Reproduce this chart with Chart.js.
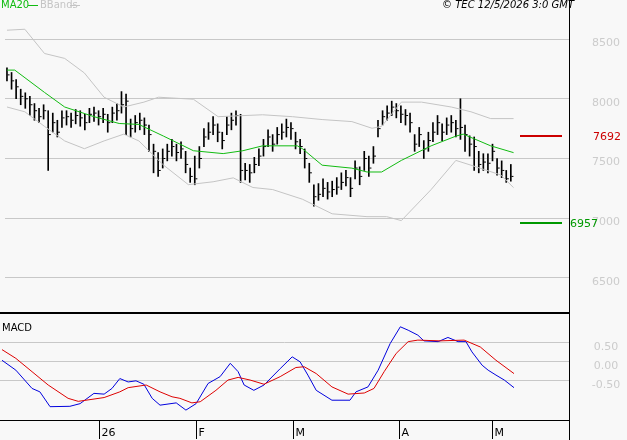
<!DOCTYPE html>
<html>
<head>
<meta charset="utf-8">
<script src="https://cdn.jsdelivr.net/npm/chart.js@4/dist/chart.umd.min.js"></script>
<style>
  body { margin: 0; background: #f8f8f8; }
  #wrap { position: relative; width: 627px; height: 440px; }
  canvas { position: absolute; left: 0; }
</style>
</head>
<body>
<div id="wrap">
  <canvas id="price" style="top:0" width="627" height="314"></canvas>
  <canvas id="macd" style="top:314px" width="627" height="126"></canvas>
</div>
<script>
// daily bars, x = bar index
const highs = [8260,8220,8160,8080,8050,8020,7960,7920,7950,7900,
  7880,7820,7900,7900,7880,7910,7900,7870,7920,7930,
  7900,7920,7870,7930,7960,8060,8040,7830,7860,7880,
  7840,7780,7620,7550,7580,7620,7660,7620,7640,7560,
  7420,7520,7600,7750,7800,7850,7790,7720,7850,7880,
  7900,7870,7460,7450,7510,7580,7660,7740,7700,7760,
  7790,7830,7800,7720,7660,7580,7460,7280,7290,7330,
  7300,7310,7340,7380,7400,7340,7480,7430,7560,7520,
  7600,7820,7900,7940,7980,7960,7940,7910,7880,7700,
  7760,7650,7720,7800,7860,7790,7840,7860,7820,8000,
  7780,7690,7680,7560,7540,7540,7620,7500,7480,7400,
  7450];
const lows = [8150,8080,8000,7950,7920,7860,7820,7800,7830,7400,
  7720,7680,7760,7780,7760,7790,7770,7740,7800,7810,
  7780,7800,7720,7800,7820,7880,7700,7680,7720,7740,
  7700,7560,7380,7350,7420,7480,7520,7480,7500,7380,
  7300,7280,7420,7600,7660,7700,7640,7580,7700,7740,
  7780,7300,7320,7300,7380,7440,7520,7600,7560,7620,
  7660,7680,7660,7580,7540,7420,7300,7100,7150,7180,
  7160,7180,7200,7240,7270,7180,7330,7280,7400,7350,
  7460,7680,7780,7820,7860,7840,7800,7780,7720,7560,
  7600,7500,7560,7640,7700,7650,7700,7720,7680,7660,
  7560,7520,7400,7380,7400,7380,7480,7360,7340,7300,
  7310];
const closes = [8200,8150,8100,8020,8000,7950,7900,7850,7900,7700,
  7800,7720,7840,7850,7820,7860,7840,7800,7870,7880,
  7850,7870,7800,7880,7900,7950,7980,7750,7800,7820,
  7780,7700,7560,7400,7500,7560,7600,7550,7580,7450,
  7350,7330,7500,7680,7720,7780,7720,7650,7780,7820,
  7860,7400,7400,7380,7450,7520,7600,7680,7620,7700,
  7720,7760,7750,7640,7600,7500,7380,7180,7200,7250,
  7220,7240,7260,7300,7340,7250,7420,7350,7500,7420,
  7520,7750,7850,7880,7930,7900,7870,7860,7800,7620,
  7700,7580,7650,7720,7800,7720,7780,7800,7750,7760,
  7700,7620,7600,7450,7470,7460,7560,7420,7400,7330,
  7350];

// MA20 and Bollinger bands read at [barIndex, value]
const ma20 = [[0,8240],[1.7,8240],[8.2,8053],[12.6,7931],[19,7850],[24.5,7793],[28.8,7785],[34.2,7687],
  [40.7,7565],[47.2,7541],[51.5,7565],[55.8,7606],[63.4,7606],[64.5,7582],[68.8,7444],[75.3,7419],
  [78.6,7387],[81.8,7387],[86.1,7484],[92.6,7606],[98,7687],[99.6,7704],[105.6,7606],[110.6,7549]];
const bbUpper = [[0,8574],[3.9,8582],[8.2,8379],[12.6,8338],[16.9,8216],[21.2,8013],[25.5,7931],[29.9,7972],
  [33.1,8013],[40.7,7996],[46.1,7850],[55.8,7866],[62.3,7850],[68.8,7826],[75.3,7809],[79.7,7753],
  [81.8,7769],[86.1,7972],[90.5,7972],[97,7931],[101.3,7891],[105.6,7834],[110.6,7834]];
const bbLower = [[0,7931],[3.9,7891],[8.2,7769],[12.6,7647],[16.9,7582],[21.2,7647],[25.5,7704],[28.8,7647],
  [34.2,7444],[39.6,7281],[45,7305],[49.4,7338],[53.7,7257],[58,7240],[64.5,7159],[71,7037],
  [78.6,7013],[82.9,7013],[86.1,6980],[92.6,7240],[98,7484],[101.3,7444],[107.8,7362],[110.6,7256]];

const macdLine = [[0,0.04],[3,-0.22],[6.5,-0.70],[8.2,-0.79],[10.4,-1.18],[14.7,-1.17],[16.9,-1.10],[19.9,-0.83],
  [22.1,-0.85],[23.8,-0.70],[25.5,-0.44],[27.3,-0.53],[29,-0.50],[30.7,-0.59],[32.5,-0.96],[34.2,-1.14],
  [37.7,-1.08],[39.8,-1.27],[42,-1.10],[44.6,-0.57],[47.2,-0.39],[49.4,-0.04],[51.1,-0.26],[52.4,-0.61],
  [54.5,-0.75],[56.7,-0.61],[60.2,-0.18],[62.8,0.13],[64.5,0],[66.2,-0.35],[68,-0.75],[71.4,-1.01],
  [75.3,-1.01],[76.6,-0.79],[79.2,-0.66],[81.4,-0.22],[84,0.48],[86.2,0.92],[87.9,0.83],[90,0.70],
  [91.3,0.55],[94.4,0.53],[96.5,0.64],[98.7,0.53],[100.4,0.53],[101.7,0.26],[103.9,-0.09],[105.2,-0.22],
  [106.9,-0.35],[108.7,-0.48],[110.8,-0.68]];
const signalLine = [[0,0.32],[3,0.09],[6.5,-0.26],[10,-0.61],[14.3,-0.96],[16.5,-1.04],[22.1,-0.94],[25.5,-0.79],
  [27.3,-0.68],[31.2,-0.61],[34.2,-0.79],[36.8,-0.92],[38.5,-0.96],[41.1,-1.08],[42.9,-1.05],[46.3,-0.75],
  [48.9,-0.48],[51.1,-0.41],[53.7,-0.48],[56.7,-0.59],[60.2,-0.39],[63.6,-0.15],[65.4,-0.13],[68,-0.31],
  [71.4,-0.66],[74.9,-0.85],[78.4,-0.82],[80.5,-0.70],[82.7,-0.26],[85.3,0.22],[87.9,0.53],[90,0.57],
  [94.8,0.55],[100,0.57],[103.5,0.39],[106.9,0.04],[110.8,-0.31]];

const priceTicks = [6500, 7000, 7500, 8000, 8500];
const macdTicks = [-0.5, 0, 0.5];
const monthTicks = [[21, '26'], [42, 'F'], [63, 'M'], [86, 'A'], [106, 'M']];
const resistance = 7692, support = 6957;

const X_MIN = -0.43, X_MAX = 122.7;
const pts = arr => arr.map(p => ({x: p[0], y: p[1]}));
const FONT = '11px "DejaVu Sans", sans-serif';

function rightAxis(min, max, ticks) {
  return {
    position: 'right', min: min, max: max,
    afterBuildTicks: s => { s.ticks = ticks.map(v => ({value: v})); },
    afterFit: s => { s.width = 58; },
    border: {display: false},
    grid: {color: '#c8c8c8', drawTicks: false},
    ticks: {display: false}
  };
}

// labels for the right axis, drawn from the scale
function axisLabels(chart, ticks, fmt) {
  const ctx = chart.ctx, y = chart.scales.y;
  ctx.save();
  ctx.font = FONT; ctx.fillStyle = '#cccccc';
  ctx.textAlign = 'center'; ctx.textBaseline = 'middle';
  ticks.forEach(v => ctx.fillText(fmt(v), 606, y.getPixelForValue(v) + 4));
  ctx.restore();
}

const frame = {
  id: 'frame',
  afterDraw(chart, args, opts) {
    const ctx = chart.ctx, a = chart.chartArea;
    ctx.save();
    ctx.strokeStyle = '#000';
    ctx.lineWidth = 1;
    ctx.beginPath();
    ctx.moveTo(a.right + 0.5, 0); ctx.lineTo(a.right + 0.5, chart.height);
    ctx.stroke();
    ctx.restore();
    if (opts.draw) opts.draw(chart);
  }
};

new Chart(document.getElementById('price'), {
  data: {
    datasets: [
      {type: 'line', data: pts(bbUpper), borderColor: '#c4c4c4', borderWidth: 1, pointRadius: 0},
      {type: 'line', data: pts(bbLower), borderColor: '#c4c4c4', borderWidth: 1, pointRadius: 0},
      {type: 'line', data: pts(ma20), borderColor: '#11bb11', borderWidth: 1, pointRadius: 0},
      {type: 'bar', data: highs.map((h, i) => ({x: i, y: [lows[i], h]})),
        backgroundColor: '#000', barThickness: 1},
      {type: 'scatter', data: closes.map((c, i) => ({x: i + 0.35, y: c})),
        pointStyle: 'line', radius: 1, borderColor: '#000', borderWidth: 1}
    ]
  },
  options: {
    responsive: false, animation: false,
    layout: {padding: {top: -4, bottom: -3}},
    plugins: {
      legend: {display: false}, tooltip: {enabled: false},
      frame: {
        draw(chart) {
          const ctx = chart.ctx, a = chart.chartArea, y = chart.scales.y;
          axisLabels(chart, priceTicks, v => String(v));
          ctx.save();
          ctx.fillStyle = '#000';
          ctx.fillRect(0, 312, a.right + 1, 2);
          [[resistance, '#cc0000', 593], [support, '#009900', 570]].forEach(([v, c, tx]) => {
            const py = Math.round(y.getPixelForValue(v));
            ctx.fillStyle = c;
            ctx.fillRect(520, py - 1, 42, 2);
            ctx.font = FONT; ctx.textBaseline = 'middle';
            ctx.fillText(String(v), tx, py + 1);
          });
          ctx.font = '10px "DejaVu Sans", sans-serif';
          ctx.textBaseline = 'middle';
          ctx.fillStyle = '#11bb11'; ctx.fillText('MA20', 1, 5);
          ctx.fillRect(28, 5, 10, 1);
          ctx.fillStyle = '#c4c4c4'; ctx.fillText('BBands', 40, 5);
          ctx.fillRect(70, 5, 10, 1);
          ctx.fillStyle = '#000';
          ctx.font = 'italic 10px "DejaVu Sans", sans-serif';
          ctx.textAlign = 'right';
          ctx.fillText('\u00a9 TEC 12/5/2026 3:0 GMT', 574, 5);
          ctx.restore();
        }
      }
    },
    scales: {
      x: {type: 'linear', min: X_MIN, max: X_MAX, offset: false, display: false},
      y: rightAxis(6240, 8785, priceTicks)
    }
  },
  plugins: [frame]
});

new Chart(document.getElementById('macd'), {
  type: 'line',
  data: {
    datasets: [
      {data: pts(signalLine), borderColor: '#dd0000', borderWidth: 1, pointRadius: 0},
      {data: pts(macdLine), borderColor: '#0000dd', borderWidth: 1, pointRadius: 0}
    ]
  },
  options: {
    responsive: false, animation: false,
    layout: {padding: {top: 1, bottom: 20}},
    plugins: {
      legend: {display: false}, tooltip: {enabled: false},
      frame: {
        draw(chart) {
          const ctx = chart.ctx, a = chart.chartArea, x = chart.scales.x;
          axisLabels(chart, macdTicks, v => v.toFixed(2));
          ctx.save();
          ctx.strokeStyle = '#000'; ctx.lineWidth = 1;
          ctx.beginPath();
          ctx.moveTo(0, a.bottom + 0.5); ctx.lineTo(a.right + 1, a.bottom + 0.5);
          ctx.stroke();
          ctx.fillStyle = '#000'; ctx.textBaseline = 'middle';
          ctx.font = '10px "DejaVu Sans", sans-serif';
          ctx.fillText('MACD', 2, 14);
          ctx.font = FONT;
          monthTicks.forEach(([i, lbl]) => {
            const px = Math.round(x.getPixelForValue(i)) + 0.5;
            ctx.beginPath(); ctx.moveTo(px, a.bottom); ctx.lineTo(px, a.bottom + 19); ctx.stroke();
            ctx.fillText(lbl, px + 2, a.bottom + 13);
          });
          ctx.restore();
        }
      }
    },
    scales: {
      x: {type: 'linear', min: X_MIN, max: X_MAX, display: false},
      y: rightAxis(-1.53, 1.23, macdTicks)
    }
  },
  plugins: [frame]
});
</script>
</body>
</html>
